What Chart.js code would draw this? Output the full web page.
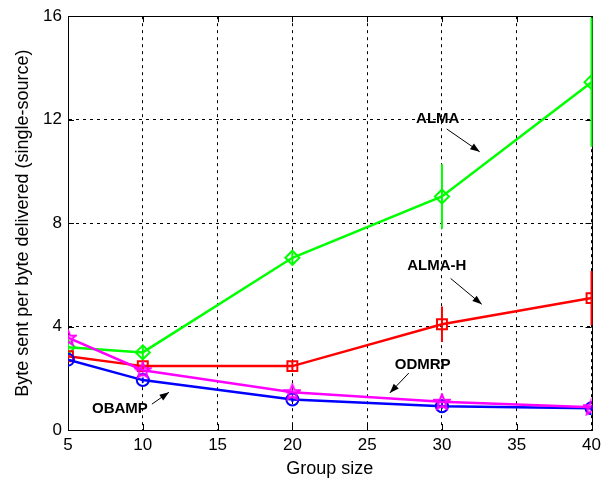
<!DOCTYPE html>
<html>
<head>
<meta charset="utf-8">
<script src="https://cdn.jsdelivr.net/npm/chart.js@4.4.1/dist/chart.umd.min.js"></script>
<style>
  html, body { margin: 0; padding: 0; background: #fff; }
  #wrap { width: 606px; height: 481px; }
</style>
</head>
<body>
<div id="wrap"><canvas id="chart"></canvas></div>
<script>
// Data
const groupSizes = [5, 10, 20, 30, 40];
const almaVals   = [3.2, 3.0, 6.66, 9.03, 13.45];
const almaErr    = [0.2, 0.3, 0.2, 1.25, 2.5];
const almaHVals  = [2.85, 2.47, 2.47, 4.09, 5.1];
const almaHErr   = [0.2, 0.2, 0.2, 0.69, 1.05];
const odmrpVals  = [3.57, 2.31, 1.46, 1.09, 0.88];
const odmrpErr   = [0.1, 0.1, 0.1, 0.1, 0.1];
const obampVals  = [2.72, 1.93, 1.18, 0.92, 0.84];
const obampErr   = [0.1, 0.1, 0.1, 0.1, 0.1];
const xTicks = [5, 10, 15, 20, 25, 30, 35, 40];
const yTicks = [0, 4, 8, 12, 16];

// annotation labels, in data units
const notes = [
    { text: "ALMA",   at: [29.72, 12.03], from: [30.32, 11.64], to: [32.52, 10.76] },
    { text: "ALMA-H", at: [29.65, 6.36],  from: [30.58, 5.86],  to: [32.66, 4.86] },
    { text: "ODMRP",  at: [28.71, 2.51],  from: [27.78, 2.20],  to: [26.51, 1.43] },
    { text: "OBAMP",  at: [8.47, 0.81],   from: [10.61, 1.00],  to: [11.75, 1.46] }
];

const pts = vals => groupSizes.map((x, i) => ({ x: x, y: vals[i] }));

function makeStar(color) {
    const c = document.createElement("canvas");
    c.width = 18; c.height = 18;
    const g = c.getContext("2d");
    g.strokeStyle = color;
    g.lineWidth = 2;
    g.beginPath();
    for (let k = 0; k < 10; k++) {
        const r = k % 2 === 0 ? 8 : 3.5;
        const a = -Math.PI / 2 + k * Math.PI / 5;
        const px = 9 + r * Math.cos(a), py = 9.5 + r * Math.sin(a);
        if (k === 0) g.moveTo(px, py); else g.lineTo(px, py);
    }
    g.closePath();
    g.stroke();
    return c;
}

// solid box + inward ticks, drawn under the data
const frame = {
    id: "frame",
    beforeDatasetsDraw(chart) {
        const { ctx, chartArea: a, scales } = chart;
        ctx.save();
        ctx.strokeStyle = "#000";
        ctx.lineWidth = 1;
        ctx.strokeRect(Math.round(a.left) + 0.5, Math.round(a.top) + 0.5,
                       Math.round(a.width), Math.round(a.height));
        ctx.beginPath();
        xTicks.forEach(v => {
            const px = Math.round(scales.x.getPixelForValue(v)) + 0.5;
            ctx.moveTo(px, a.bottom); ctx.lineTo(px, a.bottom - 6);
            ctx.moveTo(px, a.top); ctx.lineTo(px, a.top + 6);
        });
        yTicks.forEach(v => {
            const py = Math.round(scales.y.getPixelForValue(v)) + 0.5;
            ctx.moveTo(a.left, py); ctx.lineTo(a.left + 6, py);
            ctx.moveTo(a.right, py); ctx.lineTo(a.right - 6, py);
        });
        ctx.stroke();
        ctx.restore();
    }
};

const errorBars = {
    id: "errorBars",
    beforeDatasetsDraw(chart) {
        const { ctx, chartArea, scales } = chart;
        ctx.save();
        ctx.beginPath();
        ctx.rect(chartArea.left, chartArea.top - 1, chartArea.width + 2, chartArea.height + 1);
        ctx.clip();
        chart.data.datasets.forEach(ds => {
            ctx.strokeStyle = ds.borderColor;
            ctx.lineWidth = 2;
            ds.errors.forEach((e, j) => {
                const px = scales.x.getPixelForValue(ds.data[j].x);
                ctx.beginPath();
                ctx.moveTo(px, scales.y.getPixelForValue(ds.data[j].y - e));
                ctx.lineTo(px, scales.y.getPixelForValue(ds.data[j].y + e));
                ctx.stroke();
            });
        });
        ctx.restore();
    }
};

const labels = {
    id: "labels",
    afterDatasetsDraw(chart) {
        const { ctx, scales } = chart;
        const X = v => scales.x.getPixelForValue(v);
        const Y = v => scales.y.getPixelForValue(v);
        ctx.save();
        ctx.font = "bold 15px 'Liberation Sans', Arial, sans-serif";
        ctx.textAlign = "center";
        ctx.textBaseline = "middle";
        notes.forEach(n => {
            ctx.fillStyle = "#000";
            ctx.fillText(n.text, X(n.at[0]), Y(n.at[1]));
            const x0 = X(n.from[0]), y0 = Y(n.from[1]);
            const x1 = X(n.to[0]), y1 = Y(n.to[1]);
            const ang = Math.atan2(y1 - y0, x1 - x0);
            ctx.strokeStyle = "#000";
            ctx.lineWidth = 1;
            ctx.beginPath();
            ctx.moveTo(x0, y0);
            ctx.lineTo(x1, y1);
            ctx.stroke();
            ctx.beginPath();
            ctx.moveTo(x1, y1);
            ctx.lineTo(x1 - 10 * Math.cos(ang - 0.35), y1 - 10 * Math.sin(ang - 0.35));
            ctx.lineTo(x1 - 10 * Math.cos(ang + 0.35), y1 - 10 * Math.sin(ang + 0.35));
            ctx.closePath();
            ctx.fill();
        });
        ctx.restore();
    }
};

const tickFont = { family: "'Liberation Sans', Arial, sans-serif", size: 17 };
const titleFont = { family: "'Liberation Sans', Arial, sans-serif", size: 18 };

new Chart(document.getElementById("chart"), {
    type: "line",
    data: {
        datasets: [
            {
                label: "ODMRP", data: pts(odmrpVals), errors: odmrpErr,
                borderColor: "#ff00ff", pointStyle: makeStar("#ff00ff"),
                borderWidth: 2.5, order: 1
            },
            {
                label: "OBAMP", data: pts(obampVals), errors: obampErr,
                borderColor: "#0000ff", pointStyle: "circle", pointRadius: 6,
                pointBorderWidth: 2, borderWidth: 2.5, order: 2
            },
            {
                label: "ALMA-H", data: pts(almaHVals), errors: almaHErr,
                borderColor: "#ff0000", pointStyle: "rect", pointRadius: 7,
                pointBorderWidth: 2, borderWidth: 2.5, order: 3
            },
            {
                label: "ALMA", data: pts(almaVals), errors: almaErr,
                borderColor: "#00ff00", pointStyle: "rectRot", pointRadius: 7,
                pointBorderWidth: 2, borderWidth: 2.5, order: 4
            }
        ]
    },
    options: {
        responsive: true,
        maintainAspectRatio: false,
        animation: false,
        devicePixelRatio: 1,
        layout: { padding: { top: 15, right: 14, left: 0, bottom: 0 } },
        elements: {
            line: { tension: 0, fill: false },
            point: { backgroundColor: "rgba(0,0,0,0)", pointBorderWidth: 2 }
        },
        plugins: { legend: { display: false }, tooltip: { enabled: false } },
        scales: {
            x: {
                type: "linear", min: 5, max: 40,
                afterBuildTicks: s => { s.ticks = xTicks.map(v => ({ value: v })); },
                afterFit: s => { s.height = 51; },
                ticks: { color: "#000", font: tickFont, padding: 5, maxRotation: 0 },
                grid: { color: "#000", lineWidth: 1, drawTicks: false },
                border: { color: "#000", width: 1, dash: [3, 4] },
                title: { display: true, text: "Group size", color: "#000", font: titleFont, padding: { top: 0, bottom: 1 } }
            },
            y: {
                type: "linear", min: 0, max: 16,
                afterBuildTicks: s => { s.ticks = yTicks.map(v => ({ value: v })); },
                afterFit: s => { s.width = 68; },
                ticks: { color: "#000", font: tickFont, padding: 6 },
                grid: { color: "#000", lineWidth: 1, drawTicks: false },
                border: { color: "#000", width: 1, dash: [3, 4] },
                title: { display: true, text: "Byte sent per byte delivered (single-source)", color: "#000", font: titleFont, padding: { top: 12, bottom: 0 } }
            }
        }
    },
    plugins: [frame, errorBars, labels]
});
</script>
</body>
</html>
